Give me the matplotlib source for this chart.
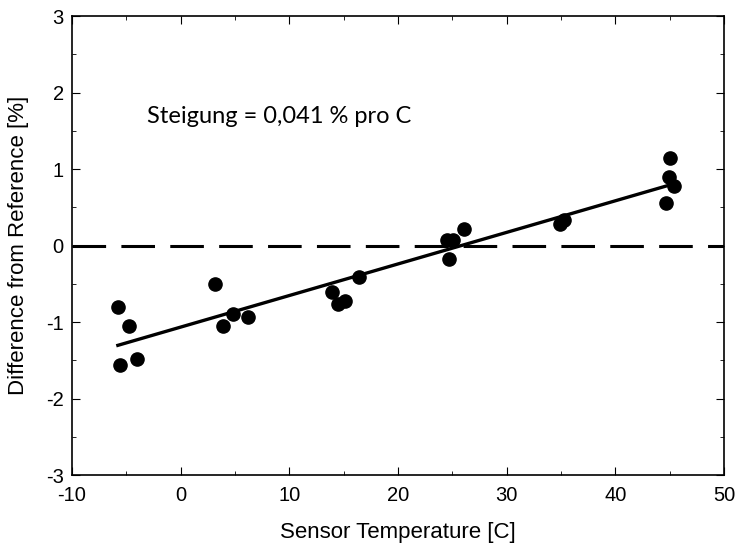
import numpy as np
import matplotlib.pyplot as plt

# Data
temp = [-5.78, -5.6, -4.77, -4.04, 3.2, 3.94, 4.86, 6.24, 13.88, 14.52, 15.11,
        16.42, 24.47, 25.05, 24.71, 26.06, 34.95, 35.3, 44.65, 44.96, 45.05, 45.39]
diff = [-0.80, -1.56, -1.05, -1.48, -0.50, -1.05, -0.89, -0.93, -0.61, -0.76, -0.73,
        -0.415, 0.075, 0.075, -0.18, 0.22, 0.28, 0.34, 0.55, 0.90, 1.14, 0.78]
xticks = [-10, 0, 10, 20, 30, 40, 50]
yticks = [-3, -2, -1, 0, 1, 2, 3]

plt.rcParams['font.family'] = ['Liberation Sans', 'DejaVu Sans']
plt.rcParams['axes.unicode_minus'] = False

fig = plt.figure(figsize=(7.37, 5.47), dpi=100)
ax = fig.add_axes([0.0977, 0.1316, 0.8847, 0.8391])

# zero reference line
ax.axhline(0, color='black', linewidth=2.2, dashes=(11, 5))

# linear fit
slope, intercept = np.polyfit(temp, diff, 1)
xf = np.array([min(temp), max(temp)])
ax.plot(xf, slope * xf + intercept, color='black', linewidth=2.4)

ax.plot(temp, diff, 'o', color='black', markersize=9.5)

ax.text(-3.1, 1.69, 'Steigung = 0,041 % pro C', fontsize=17,
        family=['Lato', 'DejaVu Sans'], va='center', ha='left')

ax.set_xlim(-10, 50)
ax.set_ylim(-3, 3)
ax.set_xticks(xticks)
ax.set_yticks(yticks)
ax.set_xticks(np.arange(-5, 50, 10), minor=True)
ax.set_yticks(np.arange(-2.5, 3, 1), minor=True)
ax.tick_params(which='both', direction='in', top=True, right=True, labelsize=14.5)
ax.tick_params(axis='x', pad=8)
ax.tick_params(axis='y', pad=6)
ax.tick_params(which='major', length=6)
ax.tick_params(which='minor', length=3)
for s in ax.spines.values():
    s.set_linewidth(1.2)

ax.set_xlabel('Sensor Temperature [C]', fontsize=16, labelpad=12)
ax.set_ylabel('Difference from Reference [%]', fontsize=16, labelpad=12)

plt.savefig('out.png', dpi=100)
